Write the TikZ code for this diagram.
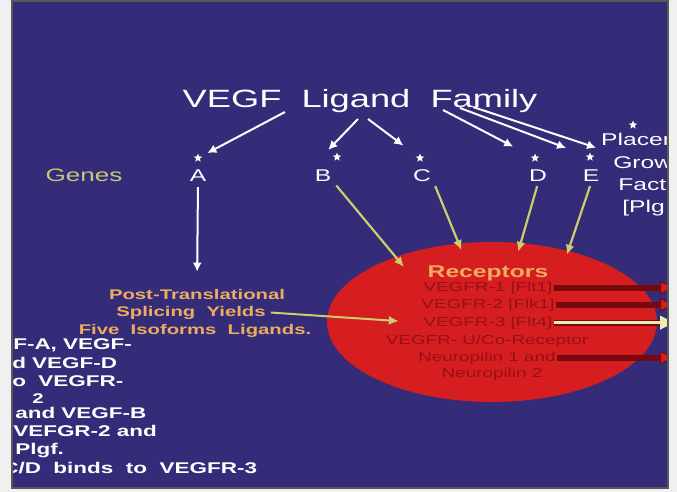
\documentclass[tikz,border=0pt]{standalone}
\usepackage{fontspec}
\setmainfont{Liberation Sans}
\usepackage{tikz}
\usetikzlibrary{calc}
\usetikzlibrary{arrows.meta}
\usetikzlibrary{shapes.geometric}
\usetikzlibrary{positioning}

\definecolor{bgblue}{RGB}{52,44,120}
\definecolor{frgray}{RGB}{88,88,88}
\definecolor{genyel}{RGB}{200,200,120}
\definecolor{orng}{RGB}{238,172,96}
\definecolor{recred}{RGB}{214,30,32}
\definecolor{txtred}{RGB}{150,16,22}
\definecolor{barred}{RGB}{118,8,14}
\definecolor{arryel}{RGB}{204,204,112}
\definecolor{paleyel}{RGB}{236,236,178}

\tikzset{lbl/.style={anchor=base,inner sep=2pt,xscale=1.45}}
\tikzset{lft/.style={anchor=base west,inner sep=0pt,xscale=1.45,white,font=\bfseries\fontsize{15.5}{18}\selectfont}}
\tikzset{pst/.style={lbl,orng,font=\bfseries\fontsize{14}{16}\selectfont}}
\tikzset{rl/.style={lbl,inner sep=1pt,txtred,font=\fontsize{13}{15}\selectfont}}
\tikzset{gene/.style={lbl,white,font=\fontsize{17}{20}\selectfont}}
\tikzset{plc/.style={anchor=base west,inner sep=0pt,xscale=1.45,white,font=\fontsize{17}{20}\selectfont}}
\tikzset{star5/.style={star,star points=5,star point ratio=2.3,fill=white,inner sep=0pt,minimum size=9pt}}
\tikzset{wht/.style={-{Latex[length=9pt,width=9pt]},white,line width=2pt}}
\tikzset{yel/.style={-{Latex[length=10pt,width=9pt]},arryel,line width=2.2pt}}
\tikzset{bar/.style={barred,line width=6pt,-{Triangle[length=14pt,width=14pt,line width=1pt,fill=recred]}}}

\begin{document}
\begin{tikzpicture}[x=1pt,y=-1pt]
\useasboundingbox (0,0) rectangle (677,492);
\fill[gray!12] (0,0) rectangle (677,492);
\fill[bgblue] (12,1) rectangle (668,488);
\begin{scope}
\clip (12,1) rectangle (668,488);

\node[ellipse,fill=recred,minimum width=330pt,minimum height=160pt,inner sep=0pt,outer sep=0pt] (ell) at (492,322) {};

% family and genes
\node[lbl,white,font=\fontsize{25}{30}\selectfont] (vlf) at (360,108) {VEGF\ \ Ligand\ \ Family};
\node[lbl,genyel,font=\fontsize{18}{20}\selectfont] (gen) at (84,181) {Genes};
\node[gene] (gA) at (198,181) {A};
\node[gene] (gB) at (323,181) {B};
\node[gene] (gC) at (422,181) {C};
\node[gene] (gD) at (538,181) {D};
\node[gene] (gE) at (591,181) {E};
\node[star5] (sA) at (198,158) {};
\node[star5] (sB) at (337,157) {};
\node[star5] (sC) at (420,158) {};
\node[star5] (sD) at (535,158) {};
\node[star5] (sE) at (590,157) {};
\node[star5] (sP) at (633,125) {};
\node[plc,inner sep=2pt] (pl) at (598,146) {Placen};
\node[plc] (gr) at (613,168) {Grow};
\node[plc] (fa) at (618,190) {Fact};
\node[plc] (pg) at (622,212) {[Plg};

\coordinate (ta) at (285,112);
\coordinate (tb) at (358,119);
\coordinate (tc) at (368,119);
\coordinate (td) at (443,110);
\coordinate (te) at (460,108);
\coordinate (tp) at (473,107);
\draw[wht,shorten >=7pt] (ta) -- (sA);
\draw[wht,shorten >=24pt] (tb) -- (gB.north west);
\draw[wht,shorten >=18pt] (tc) -- (sC);
\draw[wht,shorten >=21pt] (td) -- (sD);
\draw[wht,shorten >=21pt] (te) -- (sE);
\draw[wht,shorten >=2pt] (tp) -- (pl.south west);

% splicing
\node[pst] (pt) at (197,299) {Post-Translational};
\node[pst] (spl) at (191,316) {Splicing\ \ Yields};
\node[pst] (fiv) at (195,334) {Five\ \ Isoforms\ \ Ligands.};
\draw[wht,shorten <=4pt,shorten >=15pt] (gA.south) -- (pt.north);

% receptors
\node[lbl,orng,font=\bfseries\fontsize{17}{20}\selectfont] (rc) at (488,277) {Receptors};
\node[rl] (r1) at (488,291) {VEGFR-1 [Flt1]};
\node[rl] (r2) at (488,308) {VEGFR-2 [Flk1]};
\node[rl] (r3) at (488,326) {VEGFR-3 [Flt4]};
\node[rl] (r4) at (487,344) {VEGFR- U/Co-Receptor};
\node[rl] (r5) at (487,361) {Neuropilin 1 and};
\node[rl] (r6) at (492,377) {Neuropilin 2};

\draw[yel,shorten <=3pt,shorten >=-13pt] (gB.south east) -- (ell.146.5);
\draw[yel,shorten <=3pt,shorten >=-7pt] (gC.south east) -- (ell.113);
\draw[yel,shorten <=3pt,shorten >=-9pt] (gD.south) -- (ell.70);
\draw[yel,shorten <=3pt,shorten >=-4pt] (gE.south) -- (ell.43);
\draw[yel,line width=2pt,shorten <=2pt,shorten >=23pt] (spl.east) -- (r3.west);

\coordinate (ex) at (674,0);
\draw[bar] (r1.east) -- (r1.east -| ex);
\draw[bar] (r2.east) -- (r2.east -| ex);
\draw[barred,line width=6pt,shorten >=12pt] (r3.east) -- (r3.east -| ex);
\draw[paleyel,line width=2.5pt,-{Triangle[length=14pt,width=14pt,line width=1pt,fill=paleyel]}] (r3.east) -- (r3.east -| ex);
\draw[bar] (r5.east) -- (r5.east -| ex);

% cut-off notes on the left
\node[lft] (n1) at (13,349) {F-A, VEGF-};
\node[lft] (n2) at (12,368) {d VEGF-D};
\node[lft] (n3) at (12,386) {o\ \ VEGFR-};
\node[lft,font=\bfseries\fontsize{14}{16}\selectfont] (n4) at (32,403) {2};
\node[lft] (n5) at (15,418) {and VEGF-B};
\node[lft] (n6) at (13,436) {VEFGR-2 and};
\node[lft] (n7) at (15,454) {Plgf.};
\node[lft] (n8) at (2,473) {C/D\ \ binds\ \ to\ \ VEGFR-3};
\end{scope}
\draw[frgray,line width=1.6pt] (12,1) rectangle (668,488);
\end{tikzpicture}
\end{document}
